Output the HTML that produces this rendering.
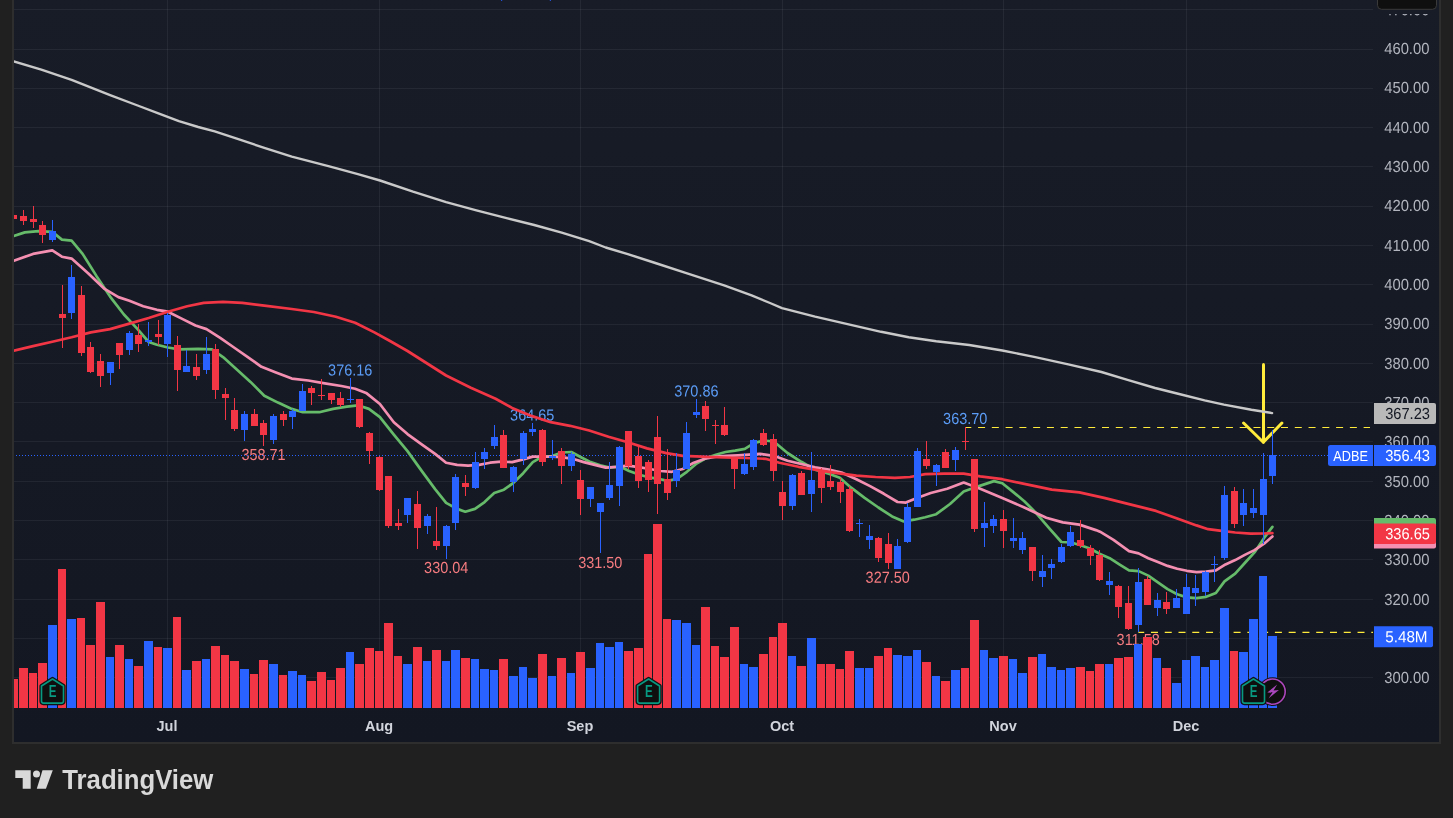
<!DOCTYPE html><html><head><meta charset="utf-8"><title>ADBE chart</title><style>
html,body{margin:0;padding:0;background:#202020;overflow:hidden}body{width:1453px;height:818px;position:relative}svg{position:absolute;left:0;top:0;display:block;will-change:transform}text{font-family:"Liberation Sans",sans-serif}
</style></head><body>
<svg width="1453" height="818" viewBox="0 0 1453 818">
<defs><linearGradient id="bg" x1="0" y1="0" x2="0" y2="1"><stop offset="0" stop-color="#181c27"/><stop offset="1" stop-color="#131722"/></linearGradient>
<clipPath id="pane"><rect x="14" y="0" width="1359" height="708"/></clipPath></defs>
<rect x="0" y="0" width="1453" height="818" fill="#202020"/>
<rect x="12" y="-4" width="1429" height="748" fill="#2e2e2e"/>
<rect x="14" y="-4" width="1425" height="746" fill="url(#bg)"/>
<g fill="#f0f3fa" fill-opacity="0.062" shape-rendering="crispEdges">
<rect x="14" y="9" width="1359" height="1"/>
<rect x="14" y="49" width="1359" height="1"/>
<rect x="14" y="88" width="1359" height="1"/>
<rect x="14" y="127" width="1359" height="1"/>
<rect x="14" y="166" width="1359" height="1"/>
<rect x="14" y="206" width="1359" height="1"/>
<rect x="14" y="245" width="1359" height="1"/>
<rect x="14" y="284" width="1359" height="1"/>
<rect x="14" y="324" width="1359" height="1"/>
<rect x="14" y="363" width="1359" height="1"/>
<rect x="14" y="402" width="1359" height="1"/>
<rect x="14" y="441" width="1359" height="1"/>
<rect x="14" y="481" width="1359" height="1"/>
<rect x="14" y="520" width="1359" height="1"/>
<rect x="14" y="559" width="1359" height="1"/>
<rect x="14" y="599" width="1359" height="1"/>
<rect x="14" y="638" width="1359" height="1"/>
<rect x="14" y="677" width="1359" height="1"/>
<rect x="167" y="0" width="1" height="708"/>
<rect x="379" y="0" width="1" height="708"/>
<rect x="580" y="0" width="1" height="708"/>
<rect x="782" y="0" width="1" height="708"/>
<rect x="1003" y="0" width="1" height="708"/>
<rect x="1186" y="0" width="1" height="708"/>
</g>
<g clip-path="url(#pane)">
<text transform="translate(328.10,375.50) rotate(0.03) scale(0.9386,1.04)" font-size="15.4" fill="#5b9cf6">376.16</text>
<text transform="translate(510.10,420.50) rotate(0.03) scale(0.9386,1.04)" font-size="15.4" fill="#5b9cf6">364.65</text>
<text transform="translate(674.30,396.50) rotate(0.03) scale(0.9386,1.04)" font-size="15.4" fill="#5b9cf6">370.86</text>
<text transform="translate(943.10,423.90) rotate(0.03) scale(0.9386,1.04)" font-size="15.4" fill="#5b9cf6">363.70</text>
<text transform="translate(241.40,460.10) rotate(0.03) scale(0.9386,1.04)" font-size="15.4" fill="#f77c80">358.71</text>
<text transform="translate(424.10,573.00) rotate(0.03) scale(0.9386,1.04)" font-size="15.4" fill="#f77c80">330.04</text>
<text transform="translate(578.20,568.00) rotate(0.03) scale(0.9386,1.04)" font-size="15.4" fill="#f77c80">331.50</text>
<text transform="translate(865.60,582.80) rotate(0.03) scale(0.9386,1.04)" font-size="15.4" fill="#f77c80">327.50</text>
<text transform="translate(1116.60,645.10) rotate(0.03) scale(0.9386,1.04)" font-size="15.4" fill="#f77c80">311.58</text>
<line x1="965.8" x2="1370" y1="427.5" y2="427.5" stroke="#ffeb3b" stroke-width="1.15" stroke-dasharray="7 6.77" stroke-dashoffset="1.5"/>
<line x1="1138.4" x2="1373" y1="632.4" y2="632.4" stroke="#ffeb3b" stroke-width="1.15" stroke-dasharray="7 6.77" stroke-dashoffset="1.2"/>
<g stroke="#ffeb3b" stroke-width="3" stroke-linecap="round" stroke-linejoin="round" fill="none"><line x1="1263.5" y1="364.5" x2="1263.5" y2="442"/><polyline points="1243.6,423 1263.3,442.3 1281.9,423"/></g>
<g shape-rendering="crispEdges">
<rect x="9" y="679" width="9" height="29" fill="#f23645"/>
<rect x="19" y="668" width="9" height="40" fill="#f23645"/>
<rect x="29" y="673" width="8" height="35" fill="#f23645"/>
<rect x="38" y="663" width="9" height="45" fill="#f23645"/>
<rect x="48" y="625" width="9" height="83" fill="#2962ff"/>
<rect x="58" y="569" width="8" height="139" fill="#f23645"/>
<rect x="67" y="619" width="9" height="89" fill="#2962ff"/>
<rect x="77" y="618" width="8" height="90" fill="#f23645"/>
<rect x="86" y="645" width="9" height="63" fill="#f23645"/>
<rect x="96" y="602" width="9" height="106" fill="#f23645"/>
<rect x="106" y="657" width="8" height="51" fill="#2962ff"/>
<rect x="115" y="645" width="9" height="63" fill="#f23645"/>
<rect x="125" y="659" width="8" height="49" fill="#2962ff"/>
<rect x="134" y="666" width="9" height="42" fill="#f23645"/>
<rect x="144" y="641" width="9" height="67" fill="#2962ff"/>
<rect x="154" y="647" width="8" height="61" fill="#f23645"/>
<rect x="163" y="648" width="9" height="60" fill="#2962ff"/>
<rect x="173" y="617" width="8" height="91" fill="#f23645"/>
<rect x="182" y="670" width="9" height="38" fill="#2962ff"/>
<rect x="192" y="661" width="9" height="47" fill="#f23645"/>
<rect x="202" y="659" width="8" height="49" fill="#2962ff"/>
<rect x="211" y="646" width="9" height="62" fill="#f23645"/>
<rect x="221" y="655" width="8" height="53" fill="#f23645"/>
<rect x="230" y="661" width="9" height="47" fill="#f23645"/>
<rect x="240" y="669" width="9" height="39" fill="#2962ff"/>
<rect x="250" y="674" width="8" height="34" fill="#f23645"/>
<rect x="259" y="660" width="9" height="48" fill="#f23645"/>
<rect x="269" y="664" width="9" height="44" fill="#2962ff"/>
<rect x="279" y="675" width="8" height="33" fill="#f23645"/>
<rect x="288" y="671" width="9" height="37" fill="#2962ff"/>
<rect x="298" y="675" width="8" height="33" fill="#2962ff"/>
<rect x="307" y="681" width="9" height="27" fill="#f23645"/>
<rect x="317" y="672" width="9" height="36" fill="#f23645"/>
<rect x="327" y="680" width="8" height="28" fill="#f23645"/>
<rect x="336" y="668" width="9" height="40" fill="#f23645"/>
<rect x="346" y="652" width="8" height="56" fill="#2962ff"/>
<rect x="355" y="664" width="9" height="44" fill="#f23645"/>
<rect x="365" y="648" width="9" height="60" fill="#f23645"/>
<rect x="375" y="651" width="8" height="57" fill="#f23645"/>
<rect x="384" y="623" width="9" height="85" fill="#f23645"/>
<rect x="394" y="656" width="8" height="52" fill="#f23645"/>
<rect x="403" y="664" width="9" height="44" fill="#2962ff"/>
<rect x="413" y="647" width="9" height="61" fill="#f23645"/>
<rect x="423" y="661" width="8" height="47" fill="#2962ff"/>
<rect x="432" y="650" width="9" height="58" fill="#f23645"/>
<rect x="442" y="661" width="8" height="47" fill="#2962ff"/>
<rect x="451" y="650" width="9" height="58" fill="#2962ff"/>
<rect x="461" y="658" width="9" height="50" fill="#f23645"/>
<rect x="471" y="659" width="8" height="49" fill="#2962ff"/>
<rect x="480" y="669" width="9" height="39" fill="#2962ff"/>
<rect x="490" y="670" width="8" height="38" fill="#2962ff"/>
<rect x="499" y="659" width="9" height="49" fill="#f23645"/>
<rect x="509" y="676" width="9" height="32" fill="#2962ff"/>
<rect x="519" y="667" width="8" height="41" fill="#2962ff"/>
<rect x="528" y="678" width="9" height="30" fill="#2962ff"/>
<rect x="538" y="654" width="9" height="54" fill="#f23645"/>
<rect x="548" y="676" width="8" height="32" fill="#2962ff"/>
<rect x="557" y="658" width="9" height="50" fill="#f23645"/>
<rect x="567" y="673" width="8" height="35" fill="#2962ff"/>
<rect x="576" y="652" width="9" height="56" fill="#f23645"/>
<rect x="586" y="668" width="9" height="40" fill="#2962ff"/>
<rect x="596" y="643" width="8" height="65" fill="#2962ff"/>
<rect x="605" y="647" width="9" height="61" fill="#2962ff"/>
<rect x="615" y="642" width="8" height="66" fill="#2962ff"/>
<rect x="624" y="651" width="9" height="57" fill="#f23645"/>
<rect x="634" y="648" width="9" height="60" fill="#f23645"/>
<rect x="644" y="554" width="8" height="154" fill="#f23645"/>
<rect x="653" y="524" width="9" height="184" fill="#f23645"/>
<rect x="663" y="619" width="8" height="89" fill="#f23645"/>
<rect x="672" y="620" width="9" height="88" fill="#2962ff"/>
<rect x="682" y="623" width="9" height="85" fill="#2962ff"/>
<rect x="692" y="645" width="8" height="63" fill="#2962ff"/>
<rect x="701" y="607" width="9" height="101" fill="#f23645"/>
<rect x="711" y="646" width="8" height="62" fill="#f23645"/>
<rect x="720" y="657" width="9" height="51" fill="#f23645"/>
<rect x="730" y="627" width="9" height="81" fill="#f23645"/>
<rect x="740" y="664" width="8" height="44" fill="#2962ff"/>
<rect x="749" y="667" width="9" height="41" fill="#2962ff"/>
<rect x="759" y="654" width="9" height="54" fill="#f23645"/>
<rect x="769" y="637" width="8" height="71" fill="#f23645"/>
<rect x="778" y="623" width="9" height="85" fill="#f23645"/>
<rect x="788" y="656" width="8" height="52" fill="#2962ff"/>
<rect x="797" y="666" width="9" height="42" fill="#f23645"/>
<rect x="807" y="638" width="9" height="70" fill="#2962ff"/>
<rect x="817" y="664" width="8" height="44" fill="#f23645"/>
<rect x="826" y="664" width="9" height="44" fill="#f23645"/>
<rect x="836" y="669" width="8" height="39" fill="#f23645"/>
<rect x="845" y="651" width="9" height="57" fill="#f23645"/>
<rect x="855" y="668" width="9" height="40" fill="#2962ff"/>
<rect x="865" y="668" width="8" height="40" fill="#2962ff"/>
<rect x="874" y="656" width="9" height="52" fill="#f23645"/>
<rect x="884" y="648" width="8" height="60" fill="#f23645"/>
<rect x="893" y="655" width="9" height="53" fill="#2962ff"/>
<rect x="903" y="656" width="9" height="52" fill="#2962ff"/>
<rect x="913" y="650" width="8" height="58" fill="#2962ff"/>
<rect x="922" y="662" width="9" height="46" fill="#f23645"/>
<rect x="932" y="676" width="8" height="32" fill="#2962ff"/>
<rect x="941" y="681" width="9" height="27" fill="#f23645"/>
<rect x="951" y="670" width="9" height="38" fill="#2962ff"/>
<rect x="961" y="668" width="8" height="40" fill="#f23645"/>
<rect x="970" y="620" width="9" height="88" fill="#f23645"/>
<rect x="980" y="650" width="8" height="58" fill="#2962ff"/>
<rect x="989" y="658" width="9" height="50" fill="#2962ff"/>
<rect x="999" y="656" width="9" height="52" fill="#f23645"/>
<rect x="1009" y="659" width="8" height="49" fill="#2962ff"/>
<rect x="1018" y="673" width="9" height="35" fill="#2962ff"/>
<rect x="1028" y="657" width="9" height="51" fill="#f23645"/>
<rect x="1038" y="654" width="8" height="54" fill="#2962ff"/>
<rect x="1047" y="667" width="9" height="41" fill="#2962ff"/>
<rect x="1057" y="670" width="8" height="38" fill="#2962ff"/>
<rect x="1066" y="668" width="9" height="40" fill="#2962ff"/>
<rect x="1076" y="667" width="9" height="41" fill="#f23645"/>
<rect x="1086" y="671" width="8" height="37" fill="#f23645"/>
<rect x="1095" y="664" width="9" height="44" fill="#f23645"/>
<rect x="1105" y="664" width="8" height="44" fill="#2962ff"/>
<rect x="1114" y="658" width="9" height="50" fill="#f23645"/>
<rect x="1124" y="657" width="9" height="51" fill="#f23645"/>
<rect x="1134" y="644" width="8" height="64" fill="#2962ff"/>
<rect x="1143" y="637" width="9" height="71" fill="#f23645"/>
<rect x="1153" y="658" width="8" height="50" fill="#2962ff"/>
<rect x="1162" y="668" width="9" height="40" fill="#f23645"/>
<rect x="1172" y="683" width="9" height="25" fill="#2962ff"/>
<rect x="1182" y="660" width="8" height="48" fill="#2962ff"/>
<rect x="1191" y="656" width="9" height="52" fill="#2962ff"/>
<rect x="1201" y="667" width="8" height="41" fill="#2962ff"/>
<rect x="1210" y="660" width="9" height="48" fill="#2962ff"/>
<rect x="1220" y="608" width="9" height="100" fill="#2962ff"/>
<rect x="1230" y="651" width="8" height="57" fill="#f23645"/>
<rect x="1239" y="652" width="9" height="56" fill="#2962ff"/>
<rect x="1249" y="619" width="9" height="89" fill="#2962ff"/>
<rect x="1259" y="576" width="8" height="132" fill="#2962ff"/>
<rect x="1268" y="636" width="9" height="72" fill="#2962ff"/>
</g>
<line x1="16" x2="1328" y1="455.5" y2="455.5" stroke="#2962ff" stroke-width="1" stroke-dasharray="1 2" shape-rendering="crispEdges"/>
<polyline fill="none" stroke="#66bb6a" stroke-width="2.7" stroke-linejoin="round" stroke-linecap="round" points="13.8,236.0 24.8,232.4 38.5,231.1 52.3,231.9 61.9,239.6 71.6,240.7 82.6,253.9 96.4,275.9 110.1,296.6 123.9,314.5 137.6,329.1 148.7,342.0 156.9,344.8 167.9,347.5 178.9,349.4 198.2,348.9 212.0,349.4 223.0,357.1 236.8,369.5 250.5,381.9 264.3,395.7 278.0,402.6 291.8,408.9 302.8,412.2 319.3,412.2 333.1,408.9 346.9,406.7 357.9,405.3 368.9,408.9 379.9,417.2 393.8,434.6 407.5,451.1 421.3,470.4 435.1,489.1 446.1,502.9 457.1,508.9 465.3,511.7 475.0,508.9 484.6,502.1 494.2,493.0 503.9,489.7 513.5,482.8 523.2,473.2 532.8,462.1 542.4,456.6 552.1,456.1 561.7,452.5 571.3,452.0 581.0,457.2 590.6,462.1 600.2,465.4 609.9,467.6 619.5,466.3 629.1,471.0 638.8,474.5 648.4,477.3 658.0,478.7 667.7,480.9 677.3,478.7 686.9,471.8 696.6,463.5 706.2,458.0 715.9,454.7 725.5,452.0 735.1,450.6 744.8,448.9 754.4,442.9 764.0,440.5 773.8,441.5 787.5,453.0 801.3,461.8 815.1,469.6 828.8,473.7 839.8,477.8 850.8,487.4 864.6,497.9 878.4,507.5 892.1,516.4 903.2,521.3 914.2,519.7 925.2,517.2 936.2,514.2 950.0,504.0 963.7,491.6 977.5,486.6 994.0,481.1 1002.3,483.3 1013.3,492.1 1024.3,501.2 1035.3,512.2 1049.1,528.2 1061.4,542.0 1071.1,542.5 1080.7,545.3 1090.4,548.8 1100.0,554.0 1109.7,558.2 1119.3,564.4 1129.0,570.4 1138.6,571.1 1148.3,575.6 1157.9,582.3 1167.6,589.1 1177.2,594.3 1186.9,597.4 1196.5,598.2 1206.2,596.8 1215.9,593.0 1224.5,581.4 1235.2,573.6 1244.8,563.0 1254.5,552.4 1264.1,537.9 1272.4,526.9"/>
<polyline fill="none" stroke="#f48fb1" stroke-width="2.7" stroke-linejoin="round" stroke-linecap="round" points="13.8,260.8 33.0,253.9 52.3,250.3 61.9,256.7 71.6,258.6 88.1,273.2 104.6,288.9 118.4,297.1 129.4,300.7 143.2,306.2 156.9,309.8 167.9,311.7 181.7,318.6 195.5,325.5 206.5,329.1 220.2,337.9 234.0,347.5 247.8,357.1 261.5,366.8 275.3,372.3 291.8,378.6 308.3,380.5 324.8,383.3 341.4,386.0 355.1,388.8 366.1,392.9 379.9,404.0 393.8,422.2 407.5,434.1 421.3,444.2 435.1,453.9 446.1,462.7 457.1,464.9 468.1,465.7 479.1,464.9 490.1,462.7 501.1,461.6 512.1,462.1 523.2,459.4 532.8,456.6 542.4,456.6 552.1,456.6 561.7,457.2 572.7,458.8 583.7,462.1 594.7,464.9 605.7,467.6 616.8,466.8 627.8,465.7 638.8,467.1 649.8,469.0 660.8,471.0 671.8,471.8 682.8,469.0 693.8,462.7 704.8,458.8 715.9,456.6 726.9,455.8 737.9,455.3 748.9,454.7 759.9,453.9 773.8,455.8 787.5,460.7 801.3,464.0 815.1,467.4 828.8,469.6 842.6,472.9 856.4,479.2 870.1,486.1 883.9,493.8 897.6,502.0 905.9,502.6 916.9,497.9 930.7,493.0 947.2,488.8 963.7,482.5 980.2,488.8 1002.3,497.9 1024.3,507.5 1046.3,517.7 1062.8,522.4 1079.3,524.6 1095.9,530.1 1100.0,531.7 1113.5,539.9 1129.0,551.1 1138.6,553.4 1148.3,558.2 1157.9,562.1 1167.6,565.9 1177.2,568.8 1186.9,570.8 1196.5,572.1 1206.2,571.7 1215.9,570.4 1225.5,564.4 1235.2,560.1 1244.8,554.9 1254.5,550.1 1264.1,543.7 1272.4,536.4"/>
<polyline fill="none" stroke="#f23645" stroke-width="2.7" stroke-linejoin="round" stroke-linecap="round" points="13.8,350.8 33.0,346.1 52.3,341.7 71.6,337.3 90.8,332.4 110.1,329.1 129.4,323.6 148.7,318.0 167.9,311.7 187.2,306.2 203.7,302.9 223.0,301.8 242.3,302.9 264.3,305.7 291.8,309.0 313.8,312.0 335.9,316.7 355.1,322.7 374.4,332.4 390.0,341.0 407.5,351.0 446.1,375.5 470.8,387.8 495.6,398.8 512.1,407.9 531.4,415.9 550.7,422.2 570.0,425.8 589.2,430.5 608.5,436.8 627.8,442.3 647.0,448.4 666.3,453.1 682.8,455.8 702.1,456.6 724.1,457.5 746.1,458.0 765.4,458.8 779.3,462.7 798.5,466.8 817.8,470.1 837.1,473.1 856.4,475.6 875.6,477.0 894.9,477.8 910.0,477.0 925.2,474.2 944.4,473.7 963.7,473.7 980.2,476.4 1002.3,479.2 1024.3,483.9 1051.8,489.6 1079.3,492.4 1104.1,497.9 1129.0,504.1 1156.0,510.9 1177.2,518.6 1196.5,525.4 1208.1,529.2 1219.7,530.6 1235.2,532.5 1250.6,533.7 1264.1,533.5 1272.4,533.1"/>
<polyline fill="none" stroke="#c9c9c9" stroke-width="2.4" stroke-linejoin="round" stroke-linecap="round" points="13.8,61.5 41.3,69.7 71.6,79.9 110.1,95.1 137.6,105.5 159.7,113.8 178.9,121.2 198.2,127.0 214.7,131.4 236.8,138.6 264.3,147.9 291.8,156.7 311.1,161.7 330.3,166.6 357.9,174.1 380.0,180.5 413.0,191.7 446.1,202.1 476.4,210.4 506.6,218.1 534.2,225.0 561.7,232.7 589.2,241.2 605.7,247.5 627.8,254.1 655.3,263.0 685.6,272.9 724.1,285.3 751.6,295.4 770.0,303.0 782.0,308.1 815.1,316.7 850.8,324.9 881.1,331.8 908.7,337.3 936.2,341.2 969.2,345.0 1002.3,350.5 1035.3,357.1 1068.3,364.3 1101.4,372.0 1127.5,379.8 1155.1,388.0 1177.1,393.5 1204.6,400.4 1223.9,404.6 1251.4,409.8 1272.1,413.1"/>
<g shape-rendering="crispEdges">
<rect x="13" y="206" width="1" height="18" fill="#f23645"/>
<rect x="10" y="215" width="7" height="4" fill="#f23645"/>
<rect x="23" y="210" width="1" height="15" fill="#f23645"/>
<rect x="20" y="216" width="7" height="5" fill="#f23645"/>
<rect x="33" y="206" width="1" height="22" fill="#f23645"/>
<rect x="30" y="219" width="7" height="3" fill="#f23645"/>
<rect x="42" y="221" width="1" height="22" fill="#f23645"/>
<rect x="39" y="225" width="7" height="10" fill="#f23645"/>
<rect x="52" y="220" width="1" height="22" fill="#2962ff"/>
<rect x="49" y="231" width="7" height="9" fill="#2962ff"/>
<rect x="62" y="285" width="1" height="63" fill="#f23645"/>
<rect x="59" y="314" width="7" height="4" fill="#f23645"/>
<rect x="71" y="265" width="1" height="54" fill="#2962ff"/>
<rect x="68" y="277" width="7" height="36" fill="#2962ff"/>
<rect x="81" y="286" width="1" height="70" fill="#f23645"/>
<rect x="78" y="295" width="7" height="58" fill="#f23645"/>
<rect x="90" y="342" width="1" height="31" fill="#f23645"/>
<rect x="87" y="347" width="7" height="25" fill="#f23645"/>
<rect x="100" y="354" width="1" height="33" fill="#f23645"/>
<rect x="97" y="361" width="7" height="15" fill="#f23645"/>
<rect x="110" y="362" width="1" height="23" fill="#2962ff"/>
<rect x="107" y="362" width="7" height="11" fill="#2962ff"/>
<rect x="119" y="343" width="1" height="26" fill="#f23645"/>
<rect x="116" y="343" width="7" height="12" fill="#f23645"/>
<rect x="129" y="331" width="1" height="24" fill="#2962ff"/>
<rect x="126" y="333" width="7" height="17" fill="#2962ff"/>
<rect x="138" y="324" width="1" height="28" fill="#f23645"/>
<rect x="135" y="335" width="7" height="9" fill="#f23645"/>
<rect x="148" y="322" width="1" height="24" fill="#2962ff"/>
<rect x="145" y="340" width="7" height="2" fill="#2962ff"/>
<rect x="158" y="320" width="1" height="25" fill="#f23645"/>
<rect x="155" y="334" width="7" height="3" fill="#f23645"/>
<rect x="167" y="313" width="1" height="44" fill="#2962ff"/>
<rect x="164" y="315" width="7" height="29" fill="#2962ff"/>
<rect x="177" y="336" width="1" height="55" fill="#f23645"/>
<rect x="174" y="345" width="7" height="25" fill="#f23645"/>
<rect x="186" y="350" width="1" height="22" fill="#2962ff"/>
<rect x="183" y="366" width="7" height="6" fill="#2962ff"/>
<rect x="196" y="354" width="1" height="26" fill="#f23645"/>
<rect x="193" y="367" width="7" height="9" fill="#f23645"/>
<rect x="206" y="337" width="1" height="37" fill="#2962ff"/>
<rect x="203" y="354" width="7" height="16" fill="#2962ff"/>
<rect x="215" y="344" width="1" height="55" fill="#f23645"/>
<rect x="212" y="349" width="7" height="41" fill="#f23645"/>
<rect x="225" y="388" width="1" height="32" fill="#f23645"/>
<rect x="222" y="394" width="7" height="4" fill="#f23645"/>
<rect x="234" y="398" width="1" height="33" fill="#f23645"/>
<rect x="231" y="410" width="7" height="19" fill="#f23645"/>
<rect x="244" y="411" width="1" height="30" fill="#2962ff"/>
<rect x="241" y="414" width="7" height="16" fill="#2962ff"/>
<rect x="254" y="409" width="1" height="17" fill="#f23645"/>
<rect x="251" y="414" width="7" height="12" fill="#f23645"/>
<rect x="263" y="420" width="1" height="26" fill="#f23645"/>
<rect x="260" y="423" width="7" height="12" fill="#f23645"/>
<rect x="273" y="414" width="1" height="30" fill="#2962ff"/>
<rect x="270" y="416" width="7" height="24" fill="#2962ff"/>
<rect x="283" y="411" width="1" height="15" fill="#f23645"/>
<rect x="280" y="414" width="7" height="6" fill="#f23645"/>
<rect x="292" y="409" width="1" height="20" fill="#2962ff"/>
<rect x="289" y="411" width="7" height="6" fill="#2962ff"/>
<rect x="302" y="384" width="1" height="27" fill="#2962ff"/>
<rect x="299" y="391" width="7" height="20" fill="#2962ff"/>
<rect x="311" y="386" width="1" height="19" fill="#f23645"/>
<rect x="308" y="388" width="7" height="5" fill="#f23645"/>
<rect x="321" y="379" width="1" height="21" fill="#f23645"/>
<rect x="318" y="395" width="7" height="1" fill="#f23645"/>
<rect x="331" y="393" width="1" height="11" fill="#f23645"/>
<rect x="328" y="393" width="7" height="7" fill="#f23645"/>
<rect x="340" y="392" width="1" height="15" fill="#f23645"/>
<rect x="337" y="398" width="7" height="7" fill="#f23645"/>
<rect x="350" y="378" width="1" height="25" fill="#2962ff"/>
<rect x="347" y="399" width="7" height="1" fill="#2962ff"/>
<rect x="359" y="399" width="1" height="29" fill="#f23645"/>
<rect x="356" y="399" width="7" height="28" fill="#f23645"/>
<rect x="369" y="432" width="1" height="32" fill="#f23645"/>
<rect x="366" y="433" width="7" height="18" fill="#f23645"/>
<rect x="379" y="456" width="1" height="35" fill="#f23645"/>
<rect x="376" y="457" width="7" height="33" fill="#f23645"/>
<rect x="388" y="476" width="1" height="52" fill="#f23645"/>
<rect x="385" y="476" width="7" height="50" fill="#f23645"/>
<rect x="398" y="509" width="1" height="21" fill="#f23645"/>
<rect x="395" y="523" width="7" height="3" fill="#f23645"/>
<rect x="407" y="498" width="1" height="25" fill="#2962ff"/>
<rect x="404" y="498" width="7" height="17" fill="#2962ff"/>
<rect x="417" y="491" width="1" height="58" fill="#f23645"/>
<rect x="414" y="504" width="7" height="24" fill="#f23645"/>
<rect x="427" y="514" width="1" height="20" fill="#2962ff"/>
<rect x="424" y="516" width="7" height="10" fill="#2962ff"/>
<rect x="436" y="507" width="1" height="43" fill="#f23645"/>
<rect x="433" y="541" width="7" height="5" fill="#f23645"/>
<rect x="446" y="525" width="1" height="34" fill="#2962ff"/>
<rect x="443" y="526" width="7" height="20" fill="#2962ff"/>
<rect x="455" y="474" width="1" height="56" fill="#2962ff"/>
<rect x="452" y="477" width="7" height="46" fill="#2962ff"/>
<rect x="465" y="475" width="1" height="21" fill="#f23645"/>
<rect x="462" y="483" width="7" height="4" fill="#f23645"/>
<rect x="475" y="452" width="1" height="37" fill="#2962ff"/>
<rect x="472" y="462" width="7" height="26" fill="#2962ff"/>
<rect x="484" y="448" width="1" height="21" fill="#2962ff"/>
<rect x="481" y="452" width="7" height="7" fill="#2962ff"/>
<rect x="494" y="425" width="1" height="24" fill="#2962ff"/>
<rect x="491" y="437" width="7" height="9" fill="#2962ff"/>
<rect x="503" y="430" width="1" height="38" fill="#f23645"/>
<rect x="500" y="435" width="7" height="33" fill="#f23645"/>
<rect x="513" y="466" width="1" height="26" fill="#2962ff"/>
<rect x="510" y="467" width="7" height="15" fill="#2962ff"/>
<rect x="523" y="431" width="1" height="34" fill="#2962ff"/>
<rect x="520" y="433" width="7" height="26" fill="#2962ff"/>
<rect x="532" y="423" width="1" height="13" fill="#2962ff"/>
<rect x="529" y="429" width="7" height="3" fill="#2962ff"/>
<rect x="542" y="429" width="1" height="37" fill="#f23645"/>
<rect x="539" y="430" width="7" height="32" fill="#f23645"/>
<rect x="552" y="440" width="1" height="20" fill="#2962ff"/>
<rect x="549" y="456" width="7" height="2" fill="#2962ff"/>
<rect x="561" y="448" width="1" height="36" fill="#f23645"/>
<rect x="558" y="451" width="7" height="15" fill="#f23645"/>
<rect x="571" y="452" width="1" height="19" fill="#2962ff"/>
<rect x="568" y="454" width="7" height="12" fill="#2962ff"/>
<rect x="580" y="470" width="1" height="45" fill="#f23645"/>
<rect x="577" y="480" width="7" height="19" fill="#f23645"/>
<rect x="590" y="487" width="1" height="20" fill="#2962ff"/>
<rect x="587" y="487" width="7" height="12" fill="#2962ff"/>
<rect x="600" y="503" width="1" height="50" fill="#2962ff"/>
<rect x="597" y="503" width="7" height="9" fill="#2962ff"/>
<rect x="609" y="462" width="1" height="38" fill="#2962ff"/>
<rect x="606" y="485" width="7" height="13" fill="#2962ff"/>
<rect x="619" y="446" width="1" height="60" fill="#2962ff"/>
<rect x="616" y="447" width="7" height="39" fill="#2962ff"/>
<rect x="628" y="431" width="1" height="38" fill="#f23645"/>
<rect x="625" y="431" width="7" height="35" fill="#f23645"/>
<rect x="638" y="446" width="1" height="42" fill="#f23645"/>
<rect x="635" y="456" width="7" height="25" fill="#f23645"/>
<rect x="648" y="460" width="1" height="32" fill="#f23645"/>
<rect x="645" y="462" width="7" height="18" fill="#f23645"/>
<rect x="657" y="416" width="1" height="98" fill="#f23645"/>
<rect x="654" y="437" width="7" height="47" fill="#f23645"/>
<rect x="667" y="449" width="1" height="51" fill="#f23645"/>
<rect x="664" y="479" width="7" height="14" fill="#f23645"/>
<rect x="676" y="453" width="1" height="34" fill="#2962ff"/>
<rect x="673" y="470" width="7" height="11" fill="#2962ff"/>
<rect x="686" y="422" width="1" height="47" fill="#2962ff"/>
<rect x="683" y="433" width="7" height="36" fill="#2962ff"/>
<rect x="696" y="399" width="1" height="19" fill="#2962ff"/>
<rect x="693" y="412" width="7" height="3" fill="#2962ff"/>
<rect x="705" y="401" width="1" height="30" fill="#f23645"/>
<rect x="702" y="406" width="7" height="13" fill="#f23645"/>
<rect x="715" y="420" width="1" height="24" fill="#f23645"/>
<rect x="712" y="425" width="7" height="1" fill="#f23645"/>
<rect x="724" y="407" width="1" height="29" fill="#f23645"/>
<rect x="721" y="425" width="7" height="10" fill="#f23645"/>
<rect x="734" y="457" width="1" height="32" fill="#f23645"/>
<rect x="731" y="457" width="7" height="12" fill="#f23645"/>
<rect x="744" y="453" width="1" height="22" fill="#2962ff"/>
<rect x="741" y="464" width="7" height="10" fill="#2962ff"/>
<rect x="753" y="439" width="1" height="31" fill="#2962ff"/>
<rect x="750" y="440" width="7" height="27" fill="#2962ff"/>
<rect x="763" y="429" width="1" height="17" fill="#f23645"/>
<rect x="760" y="433" width="7" height="12" fill="#f23645"/>
<rect x="773" y="434" width="1" height="47" fill="#f23645"/>
<rect x="770" y="439" width="7" height="32" fill="#f23645"/>
<rect x="782" y="481" width="1" height="39" fill="#f23645"/>
<rect x="779" y="492" width="7" height="14" fill="#f23645"/>
<rect x="792" y="474" width="1" height="36" fill="#2962ff"/>
<rect x="789" y="475" width="7" height="31" fill="#2962ff"/>
<rect x="801" y="471" width="1" height="24" fill="#f23645"/>
<rect x="798" y="473" width="7" height="22" fill="#f23645"/>
<rect x="811" y="452" width="1" height="60" fill="#2962ff"/>
<rect x="808" y="480" width="7" height="14" fill="#2962ff"/>
<rect x="821" y="468" width="1" height="35" fill="#f23645"/>
<rect x="818" y="470" width="7" height="18" fill="#f23645"/>
<rect x="830" y="465" width="1" height="25" fill="#f23645"/>
<rect x="827" y="481" width="7" height="6" fill="#f23645"/>
<rect x="840" y="478" width="1" height="25" fill="#f23645"/>
<rect x="837" y="482" width="7" height="10" fill="#f23645"/>
<rect x="849" y="486" width="1" height="46" fill="#f23645"/>
<rect x="846" y="489" width="7" height="42" fill="#f23645"/>
<rect x="859" y="519" width="1" height="18" fill="#2962ff"/>
<rect x="856" y="523" width="7" height="1" fill="#2962ff"/>
<rect x="869" y="525" width="1" height="24" fill="#2962ff"/>
<rect x="866" y="536" width="7" height="4" fill="#2962ff"/>
<rect x="878" y="537" width="1" height="25" fill="#f23645"/>
<rect x="875" y="538" width="7" height="20" fill="#f23645"/>
<rect x="888" y="533" width="1" height="36" fill="#f23645"/>
<rect x="885" y="544" width="7" height="19" fill="#f23645"/>
<rect x="897" y="539" width="1" height="30" fill="#2962ff"/>
<rect x="894" y="546" width="7" height="23" fill="#2962ff"/>
<rect x="907" y="503" width="1" height="40" fill="#2962ff"/>
<rect x="904" y="507" width="7" height="35" fill="#2962ff"/>
<rect x="917" y="448" width="1" height="59" fill="#2962ff"/>
<rect x="914" y="451" width="7" height="56" fill="#2962ff"/>
<rect x="926" y="441" width="1" height="28" fill="#f23645"/>
<rect x="923" y="459" width="7" height="7" fill="#f23645"/>
<rect x="936" y="464" width="1" height="22" fill="#2962ff"/>
<rect x="933" y="465" width="7" height="7" fill="#2962ff"/>
<rect x="945" y="449" width="1" height="19" fill="#f23645"/>
<rect x="942" y="452" width="7" height="16" fill="#f23645"/>
<rect x="955" y="447" width="1" height="24" fill="#2962ff"/>
<rect x="952" y="450" width="7" height="10" fill="#2962ff"/>
<rect x="965" y="427" width="1" height="23" fill="#f23645"/>
<rect x="962" y="441" width="7" height="1" fill="#f23645"/>
<rect x="974" y="459" width="1" height="73" fill="#f23645"/>
<rect x="971" y="459" width="7" height="70" fill="#f23645"/>
<rect x="984" y="502" width="1" height="45" fill="#2962ff"/>
<rect x="981" y="523" width="7" height="5" fill="#2962ff"/>
<rect x="993" y="515" width="1" height="18" fill="#2962ff"/>
<rect x="990" y="519" width="7" height="7" fill="#2962ff"/>
<rect x="1003" y="510" width="1" height="38" fill="#f23645"/>
<rect x="1000" y="519" width="7" height="12" fill="#f23645"/>
<rect x="1013" y="518" width="1" height="30" fill="#2962ff"/>
<rect x="1010" y="538" width="7" height="3" fill="#2962ff"/>
<rect x="1022" y="532" width="1" height="22" fill="#2962ff"/>
<rect x="1019" y="538" width="7" height="12" fill="#2962ff"/>
<rect x="1032" y="547" width="1" height="34" fill="#f23645"/>
<rect x="1029" y="547" width="7" height="24" fill="#f23645"/>
<rect x="1042" y="555" width="1" height="32" fill="#2962ff"/>
<rect x="1039" y="571" width="7" height="6" fill="#2962ff"/>
<rect x="1051" y="559" width="1" height="20" fill="#2962ff"/>
<rect x="1048" y="564" width="7" height="4" fill="#2962ff"/>
<rect x="1061" y="544" width="1" height="19" fill="#2962ff"/>
<rect x="1058" y="547" width="7" height="15" fill="#2962ff"/>
<rect x="1070" y="526" width="1" height="21" fill="#2962ff"/>
<rect x="1067" y="532" width="7" height="14" fill="#2962ff"/>
<rect x="1080" y="520" width="1" height="28" fill="#f23645"/>
<rect x="1077" y="540" width="7" height="6" fill="#f23645"/>
<rect x="1090" y="545" width="1" height="20" fill="#f23645"/>
<rect x="1087" y="548" width="7" height="8" fill="#f23645"/>
<rect x="1099" y="550" width="1" height="31" fill="#f23645"/>
<rect x="1096" y="555" width="7" height="25" fill="#f23645"/>
<rect x="1109" y="572" width="1" height="23" fill="#2962ff"/>
<rect x="1106" y="581" width="7" height="4" fill="#2962ff"/>
<rect x="1118" y="585" width="1" height="33" fill="#f23645"/>
<rect x="1115" y="586" width="7" height="21" fill="#f23645"/>
<rect x="1128" y="586" width="1" height="44" fill="#f23645"/>
<rect x="1125" y="603" width="7" height="26" fill="#f23645"/>
<rect x="1138" y="568" width="1" height="64" fill="#2962ff"/>
<rect x="1135" y="582" width="7" height="43" fill="#2962ff"/>
<rect x="1147" y="576" width="1" height="29" fill="#f23645"/>
<rect x="1144" y="579" width="7" height="26" fill="#f23645"/>
<rect x="1157" y="593" width="1" height="23" fill="#2962ff"/>
<rect x="1154" y="600" width="7" height="8" fill="#2962ff"/>
<rect x="1166" y="592" width="1" height="22" fill="#f23645"/>
<rect x="1163" y="602" width="7" height="7" fill="#f23645"/>
<rect x="1176" y="589" width="1" height="19" fill="#2962ff"/>
<rect x="1173" y="598" width="7" height="10" fill="#2962ff"/>
<rect x="1186" y="574" width="1" height="40" fill="#2962ff"/>
<rect x="1183" y="587" width="7" height="27" fill="#2962ff"/>
<rect x="1195" y="575" width="1" height="31" fill="#2962ff"/>
<rect x="1192" y="588" width="7" height="5" fill="#2962ff"/>
<rect x="1205" y="571" width="1" height="25" fill="#2962ff"/>
<rect x="1202" y="572" width="7" height="20" fill="#2962ff"/>
<rect x="1214" y="556" width="1" height="26" fill="#2962ff"/>
<rect x="1211" y="564" width="7" height="1" fill="#2962ff"/>
<rect x="1224" y="486" width="1" height="74" fill="#2962ff"/>
<rect x="1221" y="495" width="7" height="63" fill="#2962ff"/>
<rect x="1234" y="487" width="1" height="41" fill="#f23645"/>
<rect x="1231" y="491" width="7" height="33" fill="#f23645"/>
<rect x="1243" y="489" width="1" height="37" fill="#2962ff"/>
<rect x="1240" y="503" width="7" height="12" fill="#2962ff"/>
<rect x="1253" y="489" width="1" height="29" fill="#2962ff"/>
<rect x="1250" y="508" width="7" height="5" fill="#2962ff"/>
<rect x="1263" y="453" width="1" height="91" fill="#2962ff"/>
<rect x="1260" y="479" width="7" height="36" fill="#2962ff"/>
<rect x="1272" y="430" width="1" height="54" fill="#2962ff"/>
<rect x="1269" y="455" width="7" height="21" fill="#2962ff"/>
</g>
</g>
<circle cx="1272.6" cy="691.6" r="12.6" fill="#0f0f0f" stroke="#101114" stroke-width="3.6"/><circle cx="1272.6" cy="691.6" r="12.6" fill="#0f0f0f" stroke="#ab47bc" stroke-width="1.6"/><polygon points="1277.2,684.6 1267.3,692.5 1272.6,692.2 1268.5,698.4 1278.9,690.1 1273.5,690.4" fill="#ab47bc"/>
<g transform="translate(52.5,0)"><path d="M0,679 L11,686 V701.1 Q11,703.1 9,703.1 H-9 Q-11,703.1 -11,701.1 V686 Z" fill="#0f0f0f" stroke="#101114" stroke-width="4.2" stroke-linejoin="round"/><path d="M0,679 L11,686 V701.1 Q11,703.1 9,703.1 H-9 Q-11,703.1 -11,701.1 V686 Z" fill="#0f0f0f" stroke="#089981" stroke-width="1.6" stroke-linejoin="round"/><text x="0" y="697" font-size="16.6" font-weight="bold" fill="#089981" text-anchor="middle" transform="translate(0.2,0) scale(0.7,1)">E</text></g>
<g transform="translate(648.6,0)"><path d="M0,679 L11,686 V701.1 Q11,703.1 9,703.1 H-9 Q-11,703.1 -11,701.1 V686 Z" fill="#0f0f0f" stroke="#101114" stroke-width="4.2" stroke-linejoin="round"/><path d="M0,679 L11,686 V701.1 Q11,703.1 9,703.1 H-9 Q-11,703.1 -11,701.1 V686 Z" fill="#0f0f0f" stroke="#089981" stroke-width="1.6" stroke-linejoin="round"/><text x="0" y="697" font-size="16.6" font-weight="bold" fill="#089981" text-anchor="middle" transform="translate(0.2,0) scale(0.7,1)">E</text></g>
<g transform="translate(1253.5,0)"><path d="M0,679 L11,686 V701.1 Q11,703.1 9,703.1 H-9 Q-11,703.1 -11,701.1 V686 Z" fill="#0f0f0f" stroke="#101114" stroke-width="4.2" stroke-linejoin="round"/><path d="M0,679 L11,686 V701.1 Q11,703.1 9,703.1 H-9 Q-11,703.1 -11,701.1 V686 Z" fill="#0f0f0f" stroke="#089981" stroke-width="1.6" stroke-linejoin="round"/><text x="0" y="697" font-size="16.6" font-weight="bold" fill="#089981" text-anchor="middle" transform="translate(0.2,0) scale(0.7,1)">E</text></g>
<text transform="translate(1384.20,53.95) rotate(0.03) scale(0.9598,1.04)" font-size="15.4" fill="#b2b5be">460.00</text>
<text transform="translate(1384.20,92.95) rotate(0.03) scale(0.9598,1.04)" font-size="15.4" fill="#b2b5be">450.00</text>
<text transform="translate(1384.20,132.95) rotate(0.03) scale(0.9598,1.04)" font-size="15.4" fill="#b2b5be">440.00</text>
<text transform="translate(1384.20,171.95) rotate(0.03) scale(0.9598,1.04)" font-size="15.4" fill="#b2b5be">430.00</text>
<text transform="translate(1384.20,210.95) rotate(0.03) scale(0.9598,1.04)" font-size="15.4" fill="#b2b5be">420.00</text>
<text transform="translate(1384.20,250.95) rotate(0.03) scale(0.9598,1.04)" font-size="15.4" fill="#b2b5be">410.00</text>
<text transform="translate(1384.20,289.95) rotate(0.03) scale(0.9598,1.04)" font-size="15.4" fill="#b2b5be">400.00</text>
<text transform="translate(1384.20,328.95) rotate(0.03) scale(0.9598,1.04)" font-size="15.4" fill="#b2b5be">390.00</text>
<text transform="translate(1384.20,368.95) rotate(0.03) scale(0.9598,1.04)" font-size="15.4" fill="#b2b5be">380.00</text>
<text transform="translate(1384.20,407.95) rotate(0.03) scale(0.9598,1.04)" font-size="15.4" fill="#b2b5be">370.00</text>
<text transform="translate(1384.20,446.95) rotate(0.03) scale(0.9598,1.04)" font-size="15.4" fill="#b2b5be">360.00</text>
<text transform="translate(1384.20,486.95) rotate(0.03) scale(0.9598,1.04)" font-size="15.4" fill="#b2b5be">350.00</text>
<text transform="translate(1384.20,525.95) rotate(0.03) scale(0.9598,1.04)" font-size="15.4" fill="#b2b5be">340.00</text>
<text transform="translate(1384.20,564.95) rotate(0.03) scale(0.9598,1.04)" font-size="15.4" fill="#b2b5be">330.00</text>
<text transform="translate(1384.20,604.95) rotate(0.03) scale(0.9598,1.04)" font-size="15.4" fill="#b2b5be">320.00</text>
<text transform="translate(1384.20,682.95) rotate(0.03) scale(0.9598,1.04)" font-size="15.4" fill="#b2b5be">300.00</text>
<clipPath id="c470"><rect x="1375" y="14" width="60" height="3"/></clipPath><g clip-path="url(#c470)"><text transform="translate(1384.2,15.3) rotate(0.03) scale(0.96,1.04)" font-size="15.4" fill="#b2b5be">470.00</text></g>
<rect x="501" y="0" width="1.2" height="1" fill="#2450d0"/><rect x="549.8" y="0" width="1.2" height="1" fill="#2450d0"/>
<rect x="1377.5" y="-6" width="59" height="15.3" rx="4" fill="#0f0f0f" stroke="#3a3a3a" stroke-width="1"/>
<path d="M1374,403 H1434 Q1436,403 1436,405 V422 Q1436,424 1434,424 H1374 Q1374,424 1374,424 V403 Q1374,403 1374,403 Z" fill="#b9b9b9"/>
<text transform="translate(1385.20,418.90) rotate(0.03) scale(0.9513,1.04)" font-size="15.4" fill="#131722">367.23</text>
<path d="M1374,518 H1434 Q1436,518 1436,520 V538 Q1436,540 1434,540 H1374 Q1374,540 1374,540 V518 Q1374,518 1374,518 Z" fill="#66bb6a"/>
<path d="M1374,528 H1434 Q1436,528 1436,530 V546.4 Q1436,548.4 1434,548.4 H1374 Q1374,548.4 1374,548.4 V528 Q1374,528 1374,528 Z" fill="#f48fb1"/>
<path d="M1374,523.5 H1434 Q1436,523.5 1436,525.5 V542 Q1436,544 1434,544 H1374 Q1374,544 1374,544 V523.5 Q1374,523.5 1374,523.5 Z" fill="#f23645"/>
<text transform="translate(1385.20,539.15) rotate(0.03) scale(0.9513,1.04)" font-size="15.4" fill="#fff">336.65</text>
<path d="M1374,445 H1434 Q1436,445 1436,447 V464 Q1436,466 1434,466 H1374 Q1374,466 1374,466 V445 Q1374,445 1374,445 Z" fill="#2962ff"/>
<text transform="translate(1385.20,460.90) rotate(0.03) scale(0.9513,1.04)" font-size="15.4" fill="#fff">356.43</text>
<path d="M1330.5,445 H1373 V466 H1330.5 Q1328,466 1328,463.5 V447.5 Q1328,445 1330.5,445 Z" fill="#2962ff"/>
<text x="1333.3" y="461" font-size="15.3" fill="#fff" textLength="34.6" lengthAdjust="spacingAndGlyphs">ADBE</text>
<path d="M1374,626.2 H1431 Q1433,626.2 1433,628.2 V645.3 Q1433,647.3 1431,647.3 H1374 Q1374,647.3 1374,647.3 V626.2 Q1374,626.2 1374,626.2 Z" fill="#2962ff"/>
<text transform="translate(1385.20,642.15) rotate(0.03) scale(0.9907,1.04)" font-size="15.4" fill="#fff">5.48M</text>
<text x="167.0" y="730.8" font-size="14.5" font-weight="bold" fill="#d1d4dc" text-anchor="middle">Jul</text>
<text x="379.0" y="730.8" font-size="14.5" font-weight="bold" fill="#d1d4dc" text-anchor="middle">Aug</text>
<text x="580.0" y="730.8" font-size="14.5" font-weight="bold" fill="#d1d4dc" text-anchor="middle">Sep</text>
<text x="782.0" y="730.8" font-size="14.5" font-weight="bold" fill="#d1d4dc" text-anchor="middle">Oct</text>
<text x="1003.0" y="730.8" font-size="14.5" font-weight="bold" fill="#d1d4dc" text-anchor="middle">Nov</text>
<text x="1186.0" y="730.8" font-size="14.5" font-weight="bold" fill="#d1d4dc" text-anchor="middle">Dec</text>
<g fill="#d9d9d9"><path d="M15.3,770.3 H30.7 V788.8 H22.7 V777.9 H15.3 Z"/><circle cx="36.5" cy="773.9" r="3.5"/><path d="M42.5,770.3 H52.8 L45.9,788.8 H36.8 Z"/>
<text x="62.3" y="788.8" font-size="26.8" font-weight="bold" textLength="151" lengthAdjust="spacingAndGlyphs">TradingView</text></g>
</svg></body></html>
